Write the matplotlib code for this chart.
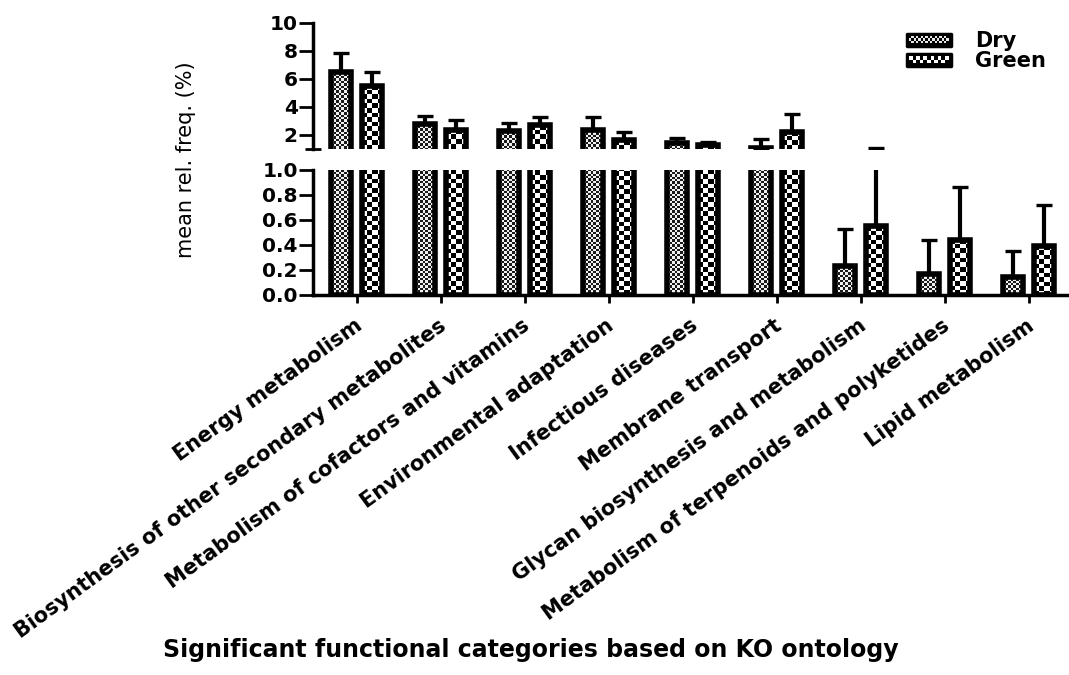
import numpy as np
import matplotlib
matplotlib.use("Agg")
import matplotlib.pyplot as plt
from matplotlib.colors import ListedColormap
from matplotlib.patches import Rectangle
from matplotlib.legend_handler import HandlerBase
from matplotlib.transforms import ScaledTranslation

categories = [
    "Energy metabolism",
    "Biosynthesis of other secondary metabolites",
    "Metabolism of cofactors and vitamins",
    "Environmental adaptation",
    "Infectious diseases",
    "Membrane transport",
    "Glycan biosynthesis and metabolism",
    "Metabolism of terpenoids and polyketides",
    "Lipid metabolism",
]
series = ["Dry", "Green"]
dry = [6.52, 2.79, 2.29, 2.35, 1.40, 1.10, 0.235, 0.165, 0.147]
dry_err = [1.32, 0.59, 0.59, 0.91, 0.36, 0.59, 0.295, 0.275, 0.203]
green = [5.50, 2.36, 2.71, 1.64, 1.29, 2.24, 0.55, 0.44, 0.39]
green_err = [1.02, 0.71, 0.55, 0.60, 0.19, 1.26, 0.52, 0.42, 0.33]
top_ticks = [2, 4, 6, 8, 10]
bottom_ticks = [0.0, 0.2, 0.4, 0.6, 0.8, 1.0]

plt.rcParams["font.family"] = ["DejaVu Sans"]
plt.rcParams["font.weight"] = "bold"

# checker patterns: (cell width px, cell height px, colours)
patterns = {
    "Dry": (2.6, 2.4, ListedColormap(["#1a1a1a", "#f0f0f0"])),
    "Green": (5.2, 4.6, ListedColormap(["#000000", "#ffffff"])),
}


def checker_fill(ax, bar, pattern):
    # fill the bar rectangle with a checkerboard image (cells sized in pixels)
    cw, ch, cmap = pattern
    x0, y0 = bar.get_x(), bar.get_y()
    w, h = bar.get_width(), bar.get_height()
    if y0 + h <= ax.get_ylim()[0]:
        return
    (px0, py0), (px1, py1) = ax.transData.transform([(x0, y0), (x0 + w, y0 + h)])
    ncol = max(1, int(round(abs(px1 - px0) / cw)))
    nrow = max(1, int(round(abs(py1 - py0) / ch)))
    board = np.indices((nrow, ncol)).sum(axis=0) % 2
    im = ax.imshow(board, cmap=cmap, vmin=0, vmax=1, extent=(x0, x0 + w, y0, y0 + h),
                   aspect="auto", interpolation="nearest", zorder=1.9)
    im.set_clip_path(ax.patch)


class CheckerHandler(HandlerBase):
    def __init__(self, cell, inner):
        super().__init__()
        self.cell = cell
        self.inner = inner

    def create_artists(self, legend, orig_handle, xdescent, ydescent, width, height, fontsize, trans):
        x0, y0 = -xdescent, -ydescent
        arts = [Rectangle((x0, y0), width, height, facecolor="black", edgecolor="black",
                          lw=2.5, joinstyle="round", transform=trans)]
        m = 1.5
        iw, ih = width - 2 * m, height - 2 * m
        nx = max(1, int(round(iw / self.cell)))
        ny = max(1, int(round(ih / self.cell)))
        cw, ch = iw / nx, ih / ny
        for i in range(nx):
            for j in range(ny):
                if (i + j) % 2:
                    arts.append(Rectangle((x0 + m + i * cw, y0 + m + j * ch), cw, ch,
                                          facecolor=self.inner, edgecolor="none", transform=trans))
        return arts


fig = plt.figure(figsize=(10.69, 6.75), dpi=100)
ax_top = fig.add_axes([0.2928, 0.7793, 0.7072, 0.1867])
ax_bot = fig.add_axes([0.2928, 0.5630, 0.7072, 0.1852])

x = np.arange(len(categories))
width = 0.243
offset = 0.185

for ax, ylim in [(ax_top, (1.0, 10)), (ax_bot, (0, 1.0))]:
    ax.set_xlim(-0.52, 8.48)
    ax.set_ylim(*ylim)
    for name, vals, errs, sign in [("Dry", dry, dry_err, -1), ("Green", green, green_err, 1)]:
        vals = np.array(vals)
        errs = np.array(errs)
        bars = ax.bar(x + sign * offset, vals, width, facecolor="none", edgecolor="black",
                      linewidth=4, zorder=2, label=name)
        for b in bars:
            checker_fill(ax, b, patterns[name])
        keep = vals + errs > ylim[0]
        ax.errorbar(x[keep] + sign * offset, vals[keep],
                    yerr=[np.zeros(keep.sum()), errs[keep]], fmt="none",
                    ecolor="black", elinewidth=3, capsize=6, capthick=2.4, zorder=3)
    for s in ["top", "right"]:
        ax.spines[s].set_visible(False)
    ax.spines["left"].set_linewidth(2.5)
    ax.spines["bottom"].set_linewidth(2.5)
    ax.tick_params(axis="y", length=10, width=2, pad=1, labelsize=14.5)

ax_top.spines["bottom"].set_visible(False)
ax_top.set_xticks([])
ax_top.set_yticks(top_ticks)
ax_top.set_yticklabels([str(t) for t in top_ticks])
ax_top.set_yticks([1.0], minor=True)
ax_top.tick_params(axis="y", which="minor", direction="inout", length=12, width=2)

ax_bot.set_yticks(bottom_ticks)
ax_bot.set_yticklabels([f"{t:.1f}" for t in bottom_ticks])
ax_bot.set_yticks([1.0], minor=True)
ax_bot.tick_params(axis="y", which="minor", direction="in", length=6, width=2)
ax_bot.set_xticks(x)
ax_bot.set_xticklabels(categories, rotation=36, ha="right", va="center",
                       rotation_mode="anchor", fontsize=15)
ax_bot.tick_params(axis="x", length=6, width=2, pad=14.5)
shift = ScaledTranslation(0.03, 0, fig.dpi_scale_trans)
for lab in ax_bot.get_xticklabels():
    lab.set_transform(lab.get_transform() + shift)

fig.text(0.174, 0.763, "mean rel. freq. (%)", rotation=90, ha="center", va="center",
         fontsize=15, fontweight="normal")
fig.text(0.497, 0.037, "Significant functional categories based on KO ontology",
         ha="center", va="center", fontsize=17)

handles = [Rectangle((0, 0), 1, 1), Rectangle((0, 0), 1, 1)]
fig.legend(handles, series, loc="upper left", bbox_to_anchor=(907 / 1069, 1 - 31 / 675),
           frameon=False, fontsize=15, handlelength=2.1, handleheight=0.5,
           handletextpad=1.15, labelspacing=0.0, borderpad=0, borderaxespad=0,
           handler_map={handles[0]: CheckerHandler(1.7, "#e8e8e8"),
                        handles[1]: CheckerHandler(2.6, "white")})

fig.savefig("out.png", dpi=100)
